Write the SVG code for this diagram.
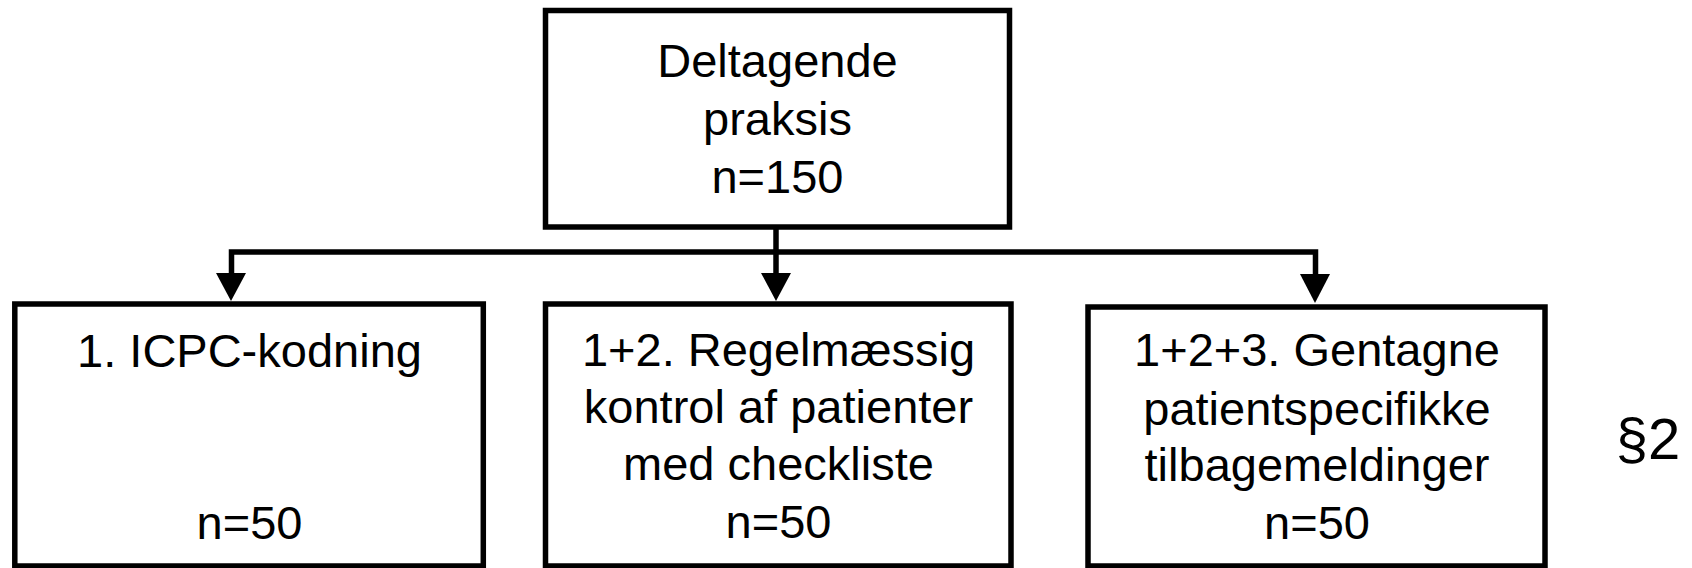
<svg xmlns="http://www.w3.org/2000/svg" width="1692" height="568" viewBox="0 0 1692 568">
<style>
.box{fill:#fff;stroke:#000;stroke-width:5.5}
.t{font-family:"Liberation Sans",Arial,sans-serif;font-size:47px;fill:#000;text-anchor:middle}
.c{fill:none;stroke:#000;stroke-width:5.5}
.ah{fill:#000}
</style>
<rect width="1692" height="568" fill="#fff"/>
<g id="connectors">
<path class="c" d="M776,227 V275"/>
<path class="c" d="M231.5,275 V252 H1315.5 V275"/>
<polygon class="ah" points="216,273 246,273 231,301"/>
<polygon class="ah" points="761,273 791,273 776,301"/>
<polygon class="ah" points="1300,274 1330,274 1315,303"/>
</g>
<g id="node-top">
<rect class="box" x="545.5" y="10.5" width="464" height="216.5"/>
<text class="t" x="777.5" y="77.3">Deltagende</text>
<text class="t" x="777.5" y="135">praksis</text>
<text class="t" x="777.5" y="192.7">n=150</text>
</g>
<g id="node-1">
<rect class="box" x="14.8" y="304" width="468.5" height="262"/>
<text class="t" x="249.5" y="367">1. ICPC-kodning</text>
<text class="t" x="249.5" y="538.7">n=50</text>
</g>
<g id="node-2">
<rect class="box" x="545.5" y="304" width="465.5" height="262"/>
<text class="t" x="778.5" y="366.3">1+2. Regelmæssig</text>
<text class="t" x="778.5" y="423">kontrol af patienter</text>
<text class="t" x="778.5" y="480">med checkliste</text>
<text class="t" x="778.5" y="538">n=50</text>
</g>
<g id="node-3">
<rect class="box" x="1088" y="307" width="457" height="259"/>
<text class="t" x="1317" y="366.3">1+2+3. Gentagne</text>
<text class="t" x="1317" y="424.7">patientspecifikke</text>
<text class="t" x="1317" y="481.3">tilbagemeldinger</text>
<text class="t" x="1317" y="538.7">n=50</text>
</g>
<text class="t" x="1648" y="459" style="font-size:58px">§2</text>
</svg>
